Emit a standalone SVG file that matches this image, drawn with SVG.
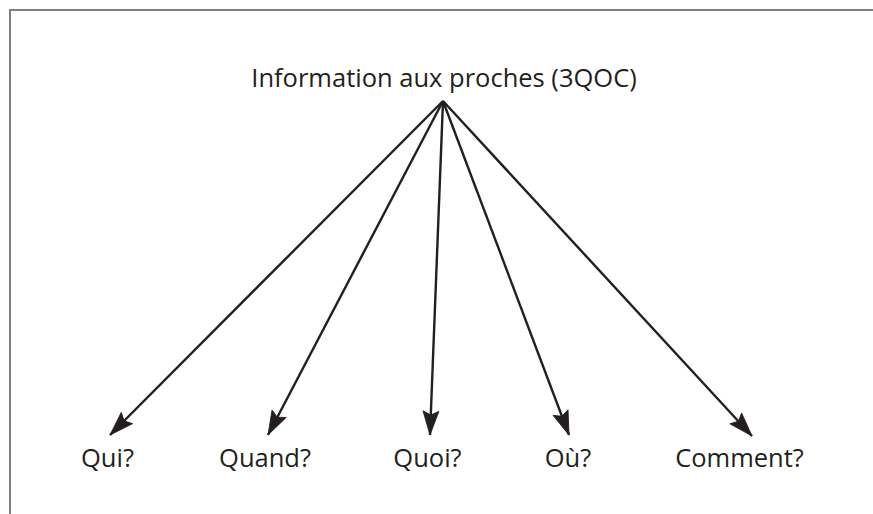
<svg xmlns="http://www.w3.org/2000/svg" width="873" height="514" viewBox="0 0 873 514">
<style>
.lbl{font-family:"Open Sans","Liberation Sans",sans-serif;font-size:25.5px;fill:#231f20;text-anchor:middle}
.edge{stroke:#231f20;stroke-width:2.4;fill:none;marker-end:url(#ah)}
.frame{stroke:#808080;stroke-width:2;fill:none}
</style>
<defs>
<marker id="ah" markerUnits="userSpaceOnUse" viewBox="-27 -10 29 20" refX="0" refY="0" markerWidth="29" markerHeight="20" orient="auto">
<path d="M0,0 L-24,-8 L-20,0 L-24,8 Z" fill="#231f20" stroke="#231f20" stroke-width="0.8" stroke-linejoin="miter"/>
</marker>
</defs>
<g id="frame">
<line class="frame" x1="10" y1="10" x2="873" y2="10" stroke="#5a5a5a"/>
<line class="frame" x1="10" y1="9" x2="10" y2="514"/>
</g>
<g id="connectors">
<line class="edge" x1="443" y1="101" x2="110" y2="435"/>
<line class="edge" x1="443" y1="101" x2="268" y2="435"/>
<line class="edge" x1="443" y1="101" x2="430" y2="435"/>
<line class="edge" x1="443" y1="101" x2="569" y2="435"/>
<line class="edge" x1="443" y1="101" x2="752" y2="436"/>
</g>
<g id="root"><text class="lbl" x="444" y="87">Information aux proches (3QOC)</text></g>
<g id="qui"><text class="lbl" x="107.5" y="467">Qui?</text></g>
<g id="quand"><text class="lbl" x="265" y="467">Quand?</text></g>
<g id="quoi"><text class="lbl" x="427.5" y="467">Quoi?</text></g>
<g id="ou"><text class="lbl" x="568" y="467">Où?</text></g>
<g id="comment"><text class="lbl" x="739.5" y="467">Comment?</text></g>
</svg>
